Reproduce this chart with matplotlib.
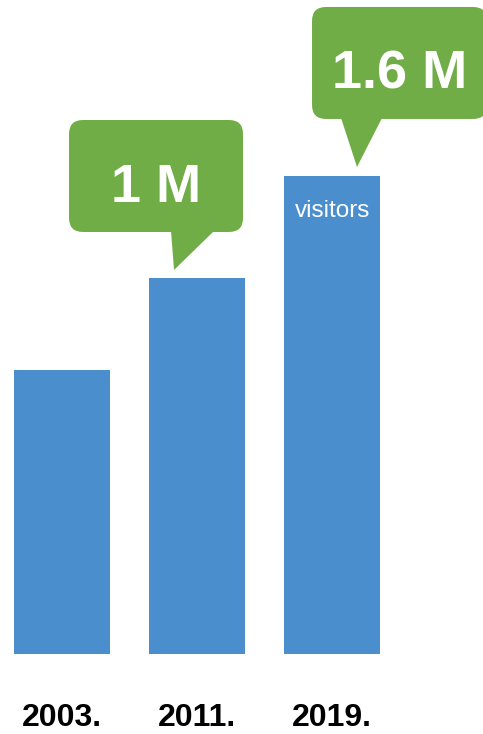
import numpy as np
import matplotlib.pyplot as plt
from matplotlib.patches import FancyBboxPatch, Polygon

#%% Data
years = ["2003.", "2011.", "2019."]
visitors = [0.46, 1.0, 1.6]          # millions (bar heights as drawn)
bubble_labels = {1: "1 M", 2: "1.6 M"}
base = -1.21                          # bars start below zero in the original graphic

blue = "#4a8ecd"
green = "#70ad47"
narrow = ["Liberation Sans Narrow", "Liberation Sans", "DejaVu Sans"]

#%% Plotting
fig = plt.figure(figsize=(4.83, 7.34), dpi=100)
ax = fig.add_axes([0, 0, 1, 1])
x = np.arange(len(years))
ax.bar(x, np.array(visitors) - base, bottom=base, width=0.71, color=blue)
ax.set_xlim(-0.459, 3.119)
ax.set_ylim(-1.682, 2.635)
ax.axis("off")

for xi, yr in zip(x, years):
    ax.text(xi, -1.633, yr, ha="center", va="baseline", fontsize=23,
            fontweight="bold", family=narrow, color="black")

# overlay in pixel coordinates for the speech bubbles
ov = fig.add_axes([0, 0, 1, 1])
ov.set_xlim(0, 483)
ov.set_ylim(734, 0)
ov.axis("off")

def to_px(xd, yd):
    dx, dy = ax.transData.transform((xd, yd))
    return dx, 734 - dy

def bubble(i, label, box_w, box_h, tip_dx, gap, tail):
    left, top = to_px(x[i] - 0.355, visitors[i])
    tipx, tipy = left + tip_dx, top - gap
    by1 = tipy - tail[0]
    bx0 = tipx - tail[1]
    ov.add_patch(FancyBboxPatch((bx0, by1 - box_h), box_w, box_h,
                                boxstyle="round,pad=0,rounding_size=14",
                                fc=green, ec="none"))
    ov.add_patch(Polygon([(tipx - tail[2], by1 - 1), (tipx, tipy),
                          (tipx + tail[3], by1 - 1)], fc=green, ec="none"))
    ov.text(bx0 + box_w / 2, by1 - 30, label, ha="center", va="baseline",
            fontsize=39, fontweight="bold", family=narrow, color="white")

bubble(1, bubble_labels[1], 174, 112, 25, 8, (38, 105, 3, 40))
bubble(2, bubble_labels[2], 175, 112, 73, 9, (48, 45, 16, 25))

lx, ly = to_px(x[2], visitors[2])
ov.text(lx + 1, ly + 41, "visitors", ha="center", va="baseline", fontsize=17.5,
        family=narrow, color="white")

plt.savefig("out.png", dpi=100)
